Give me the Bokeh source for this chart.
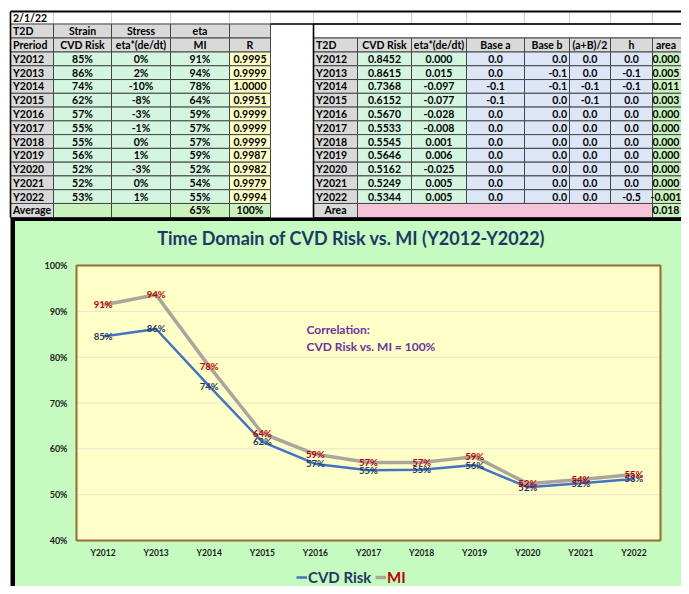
from bokeh.plotting import figure
from bokeh.models import Range1d, LinearAxis, FixedTicker, NumeralTickFormatter, Legend, LegendItem
from bokeh.core.properties import value
from bokeh.embed import file_html
from bokeh.resources import INLINE

# ---------------- data ----------------
date_label = "2/1/22"
years = ["Y2012", "Y2013", "Y2014", "Y2015", "Y2016", "Y2017",
         "Y2018", "Y2019", "Y2020", "Y2021", "Y2022"]
cvd_risk = [0.8452, 0.8615, 0.7368, 0.6152, 0.5670, 0.5533, 0.5545, 0.5646, 0.5162, 0.5249, 0.5344]
eta_dedt = [0.000, 0.015, -0.097, -0.077, -0.028, -0.008, 0.001, 0.006, -0.025, 0.005, 0.005]
stress_pct = [0, 2, -10, -8, -3, -1, 0, 1, -3, 0, 1]
mi_pct = [91, 94, 78, 64, 59, 57, 57, 59, 52, 54, 55]
mi_chart = [0.914, 0.936, 0.780, 0.634, 0.588, 0.570, 0.570, 0.583, 0.524, 0.533, 0.544]
r_values = [0.9995, 0.9999, 1.0000, 0.9951, 0.9999, 0.9999, 0.9999, 0.9987, 0.9982, 0.9979, 0.9994]
base_a = [0.0, 0.0, -0.1, -0.1, 0.0, 0.0, 0.0, 0.0, 0.0, 0.0, 0.0]
base_b = [0.0, -0.1, -0.1, 0.0, 0.0, 0.0, 0.0, 0.0, 0.0, 0.0, 0.0]
half_ab = [0.0, 0.0, -0.1, -0.1, 0.0, 0.0, 0.0, 0.0, 0.0, 0.0, 0.0]
h_vals = [0.0, -0.1, -0.1, 0.0, 0.0, 0.0, 0.0, 0.0, 0.0, 0.0, -0.5]
area_vals = [0.000, 0.005, 0.011, 0.003, 0.000, 0.000, 0.000, 0.000, 0.000, 0.000, -0.001]
avg_mi_pct = 65
avg_r_pct = 100
area_total = 0.018
left_head1 = ["T2D", "Strain", "Stress", "eta", ""]
left_head2 = ["Preriod", "CVD Risk", "eta*(de/dt)", "MI", "R"]
right_head = ["T2D", "CVD Risk", "eta*(de/dt)", "Base a", "Base b", "(a+B)/2", "h", "area"]
avg_label = "Average"
area_label = "Area"
chart_title = "Time Domain of CVD Risk vs. MI  (Y2012-Y2022)"
corr_text = ["Correlation:", "CVD Risk vs. MI = 100%"]
series_names = ["CVD Risk", "MI"]
y_ticks = [0.4, 0.5, 0.6, 0.7, 0.8, 0.9, 1.0]

# ---------------- layout / style ----------------
W, H = 681, 586
OX, OY = 0, 0
FONT = "Lato"
TFS = "10.5px"
GRAY = "#d9d9d9"
MINT = "#d4f6e1"
YEL = "#fdfdc3"
GREEN = "#c9f2bd"
BLUE = "#dde6f6"
PINK = "#f6c4d9"
PANEL = "#c5fbc0"
PLOTBG = "#ffffc8"
BORDER = "#454545"
NAVY = "#1f3864"
RED = "#c00000"

LX = [10, 53, 111, 170, 229, 270]
RX = [313, 357, 411, 466, 524, 569, 610, 652, 679]
R_DATE = (11, 23.5)
R_H1 = (23.5, 37.5)
R_H2 = (37.5, 51.5)
DATA_TOP = 51.5
RH = 13.77
n = len(years)
R_AVG = (DATA_TOP + RH * n, 217)
PANEL_TOP = 217

PL, PR, PT, PB = 76, 660, 265, 540
cw = (PR - PL) / n
YMIN, YMAX = y_ticks[0], y_ticks[-1]


def px_to_cx(px):
    return (px - PL) / cw - 0.5


def px_to_cy(py):
    return YMIN + (PB - py) / (PB - PT) * (YMAX - YMIN)


p = figure(width=W, height=H, x_range=Range1d(OX, OX + W), y_range=Range1d(OY + H, OY),
           output_backend="svg", toolbar_location=None, min_border=0,
           x_axis_type=None, y_axis_type=None, outline_line_color=None,
           background_fill_color="white", border_fill_color="white")
p.extra_x_ranges = {"cx": Range1d(px_to_cx(OX), px_to_cx(OX + W))}
p.extra_y_ranges = {"cy": Range1d(px_to_cy(OY + H), px_to_cy(OY))}

quads = {"l": [], "r": [], "t": [], "b": [], "fill": [], "line": []}


def cell(l, r, row, fill, line=BORDER):
    quads["l"].append(l); quads["r"].append(r)
    quads["t"].append(row[0]); quads["b"].append(row[1])
    quads["fill"].append(fill); quads["line"].append(line)


texts = {}


def txt(x, y, s, align="center", size=TFS, color="black"):
    key = (align, size, color)
    d = texts.setdefault(key, {"x": [], "y": [], "text": []})
    d["x"].append(x); d["y"].append(y); d["text"].append(s)


def put(l, r, row, s, align="center", size=TFS, color="black"):
    y = (row[0] + row[1]) / 2
    if align == "left":
        x = l + 2.5
    elif align == "right":
        x = r - 2.5
    else:
        x = (l + r) / 2
    txt(x, y, s, align, size, color)


def drow(i):
    return (DATA_TOP + RH * i, DATA_TOP + RH * (i + 1))


# date row (light spreadsheet grid)
allx = LX + RX[:-1] + [700]
for a, b in zip(allx[:-1], allx[1:]):
    cell(a, b, R_DATE, "white", "#cfcfcf")
put(LX[0], LX[1], R_DATE, date_label, "left")

# left table headers
for j in range(5):
    cell(LX[j], LX[j + 1], R_H1, GRAY)
    cell(LX[j], LX[j + 1], R_H2, GRAY)
    al = "left" if j == 0 else "center"
    put(LX[j], LX[j + 1], R_H1, left_head1[j], al)
    put(LX[j], LX[j + 1], R_H2, left_head2[j], al)

# left table data
for i in range(n):
    row = drow(i)
    cell(LX[0], LX[1], row, GRAY)
    put(LX[0], LX[1], row, years[i], "left")
    vals = [f"{round(cvd_risk[i] * 100)}%", f"{stress_pct[i]}%", f"{mi_pct[i]}%"]
    for j in range(3):
        cell(LX[j + 1], LX[j + 2], row, MINT)
        put(LX[j + 1], LX[j + 2], row, vals[j])
    cell(LX[4], LX[5], row, YEL)
    put(LX[4], LX[5], row, f"{r_values[i]:.4f}")

cell(LX[0], LX[1], R_AVG, GRAY)
put(LX[0], LX[1], R_AVG, avg_label, "left")
for j in range(1, 5):
    cell(LX[j], LX[j + 1], R_AVG, GREEN)
put(LX[3], LX[4], R_AVG, f"{avg_mi_pct}%")
put(LX[4], LX[5], R_AVG, f"{avg_r_pct}%")

# right table
cell(RX[0], 700, R_H1, "white")
for j in range(8):
    cell(RX[j], RX[j + 1] if j < 7 else 700, R_H2, GRAY)
    put(RX[j], RX[j + 1], R_H2, right_head[j], "left" if j == 0 else "center")
for i in range(n):
    row = drow(i)
    cell(RX[0], RX[1], row, GRAY)
    put(RX[0], RX[1], row, years[i], "left")
    cell(RX[1], RX[2], row, MINT)
    put(RX[1], RX[2], row, f"{cvd_risk[i]:.4f}")
    cell(RX[2], RX[3], row, MINT)
    put(RX[2], RX[3], row, f"{eta_dedt[i]:.3f}")
    for j, (vals, al) in enumerate([(base_a, "center"), (base_b, "right"),
                                     (half_ab, "center"), (h_vals, "center")]):
        cell(RX[3 + j], RX[4 + j], row, BLUE)
        put(RX[3 + j], RX[4 + j], row, f"{vals[i]:.1f}", al)
    cell(RX[7], 700, row, GREEN)
    put(RX[7], RX[8], row, f"{area_vals[i]:.3f}")
cell(RX[0], RX[1], R_AVG, GRAY)
put(RX[0], RX[1], R_AVG, area_label)
cell(RX[1], RX[7], R_AVG, PINK)
cell(RX[7], 700, R_AVG, GREEN)
put(RX[7], RX[8], R_AVG, f"{area_total:.3f}")

p.quad(left="l", right="r", top="t", bottom="b", fill_color="fill", line_color="line",
       line_width=1, source=quads)

# heavy spreadsheet rules
p.quad(left=[LX[0], LX[5], RX[0] - 0.8, LX[0] - 0.8],
       right=[700, 700, RX[0] + 0.8, LX[0] + 0.8],
       top=[R_DATE[0] - 1, R_H1[0] - 0.8, R_H1[0], R_DATE[0]],
       bottom=[R_DATE[0] + 1, R_H1[0] + 0.8, PANEL_TOP, PANEL_TOP],
       fill_color="black", line_color=None)

# chart panel
p.quad(left=[LX[0]], right=[700], top=[PANEL_TOP], bottom=[600], fill_color="black", line_color=None)
p.quad(left=[LX[0] + 4.5], right=[700], top=[PANEL_TOP + 3.5], bottom=[600], fill_color=PANEL, line_color=None)

# ---------------- chart ----------------
idx = list(range(n))
cr = dict(x_range_name="cx", y_range_name="cy")
p.quad(left=[-0.5], right=[n - 0.5], bottom=[YMIN], top=[YMAX], fill_color=PLOTBG, line_color=None, **cr)
p.segment(x0=[-0.5] * (len(y_ticks) - 2), x1=[n - 0.5] * (len(y_ticks) - 2),
          y0=y_ticks[1:-1], y1=y_ticks[1:-1], line_color="#e5e5d3", line_width=1, **cr)

mi_line = p.line(idx, mi_chart, line_color="#aaa59d", line_width=3.5, **cr)
cvd_line = p.line(idx, cvd_risk, line_color="#4472c4", line_width=2.5, **cr)

p.text(idx, cvd_risk, text=[f"{round(v * 100)}%" for v in cvd_risk], text_align="center",
       text_baseline="middle", text_font=value(FONT), text_font_size="9.5px",
       text_font_style="bold", text_color=NAVY, **cr)
p.text(idx, mi_chart, text=[f"{v}%" for v in mi_pct], text_align="center",
       text_baseline="middle", text_font=value(FONT), text_font_size="9.5px",
       text_font_style="bold", text_color=RED, **cr)

p.quad(left=[-0.5], right=[n - 0.5], bottom=[YMIN], top=[YMAX], fill_color=None,
       line_color="#9a6a2e", line_width=2, **cr)

yax = LinearAxis(x_range_name="cx", y_range_name="cy", fixed_location=-0.5,
                 ticker=FixedTicker(ticks=y_ticks), formatter=NumeralTickFormatter(format="0%"),
                 axis_line_color=None, major_tick_line_color=None, minor_tick_line_color=None,
                 major_tick_out=0, major_tick_in=0, major_label_standoff=9,
                 major_label_text_font=FONT, major_label_text_font_size="9px",
                 major_label_text_font_style="bold", major_label_text_color="#1a1a1a")
p.add_layout(yax, "left")
xax = LinearAxis(x_range_name="cx", y_range_name="cy", fixed_location=YMIN,
                 ticker=FixedTicker(ticks=idx),
                 major_label_overrides={i: y for i, y in enumerate(years)},
                 axis_line_color=None, major_tick_line_color=None, minor_tick_line_color=None,
                 major_tick_out=0, major_tick_in=0, major_label_standoff=7,
                 major_label_text_font=FONT, major_label_text_font_size="8.5px",
                 major_label_text_font_style="bold", major_label_text_color="#1a1a1a")
p.add_layout(xax, "below")

# title and correlation note (pixel space)
txt(353, 237, chart_title, "center", "18px", NAVY)
txt(306, 329, corr_text[0], "left", "12px", "#7030a0")
txt(306, 345.5, corr_text[1], "left", "12px", "#7030a0")

for (al, size, color), d in texts.items():
    p.text(x=d["x"], y=d["y"], text=d["text"], text_align=al, text_baseline="middle",
           text_font=value(FONT), text_font_size=size, text_font_style="bold", text_color=color)

# legends
for k, (ren, col, xloc) in enumerate([(cvd_line, NAVY, 296 - OX), (mi_line, RED, 375 - OX)]):
    leg = Legend(items=[LegendItem(label=series_names[k], renderers=[ren])],
                 location=(xloc, 0), orientation="horizontal",
                 label_text_color=col, label_text_font=FONT, label_text_font_size="15px",
                 label_text_font_style="bold", glyph_width=11, glyph_height=14,
                 label_height=14, label_standoff=1, padding=0, margin=0, spacing=0,
                 background_fill_alpha=0, border_line_color=None)
    p.add_layout(leg)

open("out.html", "w").write(file_html(p, INLINE))
